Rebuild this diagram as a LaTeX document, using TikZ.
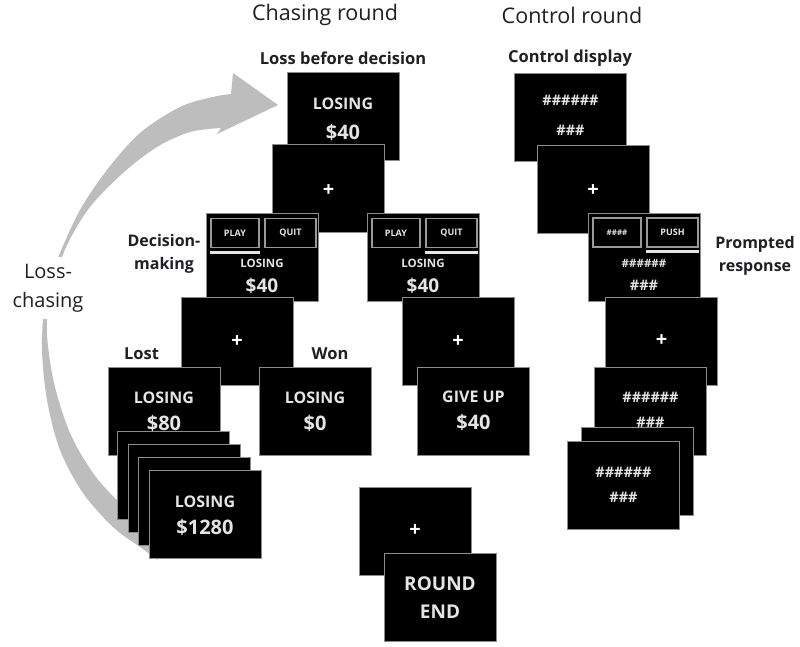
\documentclass[tikz,border=0pt]{standalone}
\usepackage{fontspec}
\setmainfont{Open Sans}
\definecolor{lbl}{HTML}{1F1F24}
\definecolor{arrowgray}{HTML}{BDBDBD}
\definecolor{scrtxt}{HTML}{E4E4E4}
\begin{document}
\begin{tikzpicture}[x=1pt,y=-1pt,
  scr/.style={fill=black, draw=black!45, line width=0.9pt, minimum width=112pt, minimum height=88pt, inner sep=0pt, outer sep=0pt},
  bt/.style={text=scrtxt, inner sep=0pt, font=\bfseries\fontsize{16}{16}\selectfont},
  dol/.style={text=scrtxt, inner sep=0pt, font=\bfseries\fontsize{20}{20}\selectfont},
  bts/.style={text=scrtxt, inner sep=0pt, font=\bfseries\fontsize{11.5}{12}\selectfont},
  btm/.style={text=scrtxt, inner sep=0pt, font=\bfseries\fontsize{14.5}{14.5}\selectfont},
  big/.style={text=scrtxt, inner sep=0pt, font=\bfseries\fontsize{19}{19}\selectfont},
  plus/.style={text=white, inner sep=0pt, font=\bfseries\fontsize{20}{20}\selectfont},
  btnbox/.style={fill=black, draw=black!40, line width=1.4pt, minimum height=29pt, inner sep=0pt, text=scrtxt, font=\bfseries\fontsize{9}{9}\selectfont},
  uline/.style={draw=black!10, line width=2.6pt},
  title/.style={text=lbl, inner sep=0pt, font=\fontsize{21.5}{21.5}\selectfont},
  sub/.style={text=lbl, inner sep=0pt, font=\bfseries\fontsize{16.5}{16.5}\selectfont},
  side/.style={text=lbl, inner sep=0pt, align=center, font=\bfseries\fontsize{16}{23}\selectfont}
]
\useasboundingbox (0,0) rectangle (800,647);
\fill[white] (0,0) rectangle (800,647);

% loss-chasing arrow
\fill[arrowgray] plot[smooth, tension=0.55] coordinates {(158,560) (140,547) (113,527) (83,493) (60,450) (47,400) (42,350) (44,310) (50,280) (60,253) (80,210) (107,170) (140,133) (180,107) (213,97) (231,94)}
  -- (233,73) -- (278,105) -- (217,134)
  -- plot[smooth, tension=0.55] coordinates {(221,128) (190,132) (157,147) (123,173) (90,207) (68,243) (56,275) (49,305) (47,335) (54,383) (70,433) (93,473) (117,500) (142,520)} -- cycle;
\node[text=lbl, fill=white, align=center, inner xsep=2pt, inner ysep=7pt, font=\fontsize{20}{29}\selectfont] (lc) at (48,288) {Loss-\\chasing};

% titles
\node[title] (t1) at (325,15) {Chasing round};
\node[title] (t2) at (572,15) {Control round};
\node[sub] (s1) at (343,58) {Loss before decision};
\node[sub] (s2) at (570,58) {Control display};
\node[side] (s3) at (164,253.5) {Decision-\\making};
\node[side] (s4) at (755,256) {Prompted\\response};
\node[sub] (s5) at (141.5,354) {Lost};
\node[sub] (s6) at (330,354) {Won};

% chasing column
\node[scr] (A) at (343,116.5) {};
\node[bt] (a1) at (343,104) {LOSING};
\node[dol] (a2) at (343,132) {\$40};
\node[scr] (B) at (328.5,188) {};
\node[plus] (b1) at (328.5,191) {+};

\node[scr] (C) at (262,257) {};
\node[btnbox, minimum width=48pt] (c1) at (235,233) {PLAY};
\node[btnbox, minimum width=51pt] (c2) at (290.5,233) {QUIT};
\draw[uline] ([yshift=-4pt]c1.south west) -- ([yshift=-4pt]c1.south east);
\node[bts] (c3) at (262,263) {LOSING};
\node[dol, font=\bfseries\fontsize{19}{19}\selectfont] (c4) at (262,286) {\$40};

\node[scr] (D) at (423,257) {};
\node[btnbox, minimum width=48pt] (d1) at (396,233) {PLAY};
\node[btnbox, minimum width=51pt] (d2) at (451.5,233) {QUIT};
\draw[uline] ([yshift=-4pt]d2.south west) -- ([yshift=-4pt]d2.south east);
\node[bts] (d3) at (423,263) {LOSING};
\node[dol, font=\bfseries\fontsize{19}{19}\selectfont] (d4) at (423,286) {\$40};

\node[scr] (E) at (237,341.5) {};
\node[plus] (e1) at (237,342) {+};
\node[scr] (F) at (164,411) {};
\node[bt] (f1) at (164,398) {LOSING};
\node[dol] (f2) at (164,423) {\$80};
\node[scr] (G) at (315,411) {};
\node[bt] (g1) at (315,398) {LOSING};
\node[dol] (g2) at (315,423) {\$0};

\node[scr] (H1) at (173,475.5) {};
\node[scr] (H2) at (184,488) {};
\node[scr] (H3) at (194,501) {};
\node[scr] (H) at (205,514) {};
\node[bt] (h1) at (205,502) {LOSING};
\node[dol] (h2) at (205,527) {\$1280};

\node[scr] (I) at (458,341.5) {};
\node[plus] (i1) at (458,342) {+};
\node[scr] (J) at (473.5,411) {};
\node[bt] (j1) at (473.5,397) {GIVE UP};
\node[dol] (j2) at (473.5,422) {\$40};

\node[scr] (K) at (415,531) {};
\node[plus] (k1) at (415,531) {+};
\node[scr] (L) at (440,597.5) {};
\node[big] (l1) at (440,584) {ROUND};
\node[big] (l2) at (440,612) {END};

% control column
\node[scr] (M) at (570.5,117.5) {};
\node[btm] (m1) at (570.5,100) {\#\#\#\#\#\#};
\node[btm] (m2) at (570.5,130) {\#\#\#};
\node[scr] (N) at (593,189.5) {};
\node[plus] (n1) at (593,191) {+};

\node[scr] (O) at (644,257) {};
\node[btnbox, minimum width=48pt, font=\bfseries\fontsize{8}{8}\selectfont] (o1) at (617,232.5) {\#\#\#\#};
\node[btnbox, minimum width=51pt] (o2) at (672.5,232.5) {PUSH};
\draw[uline] ([yshift=-4pt]o2.south west) -- ([yshift=-4pt]o2.south east);
\node[bts] (o3) at (644,263) {\#\#\#\#\#\#};
\node[btm] (o4) at (644,285) {\#\#\#};

\node[scr] (P) at (661.5,341.5) {};
\node[plus] (p1) at (661.5,341) {+};
\node[scr] (Q) at (650.5,411) {};
\node[btm] (q1) at (650.5,397) {\#\#\#\#\#\#};
\node[btm] (q2) at (650.5,422) {\#\#\#};
\node[scr] (R) at (637,471.5) {};
\node[scr] (T) at (623.5,485.5) {};
\node[btm] (t3) at (623.5,472) {\#\#\#\#\#\#};
\node[btm] (t4) at (623.5,497) {\#\#\#};
\end{tikzpicture}
\end{document}
